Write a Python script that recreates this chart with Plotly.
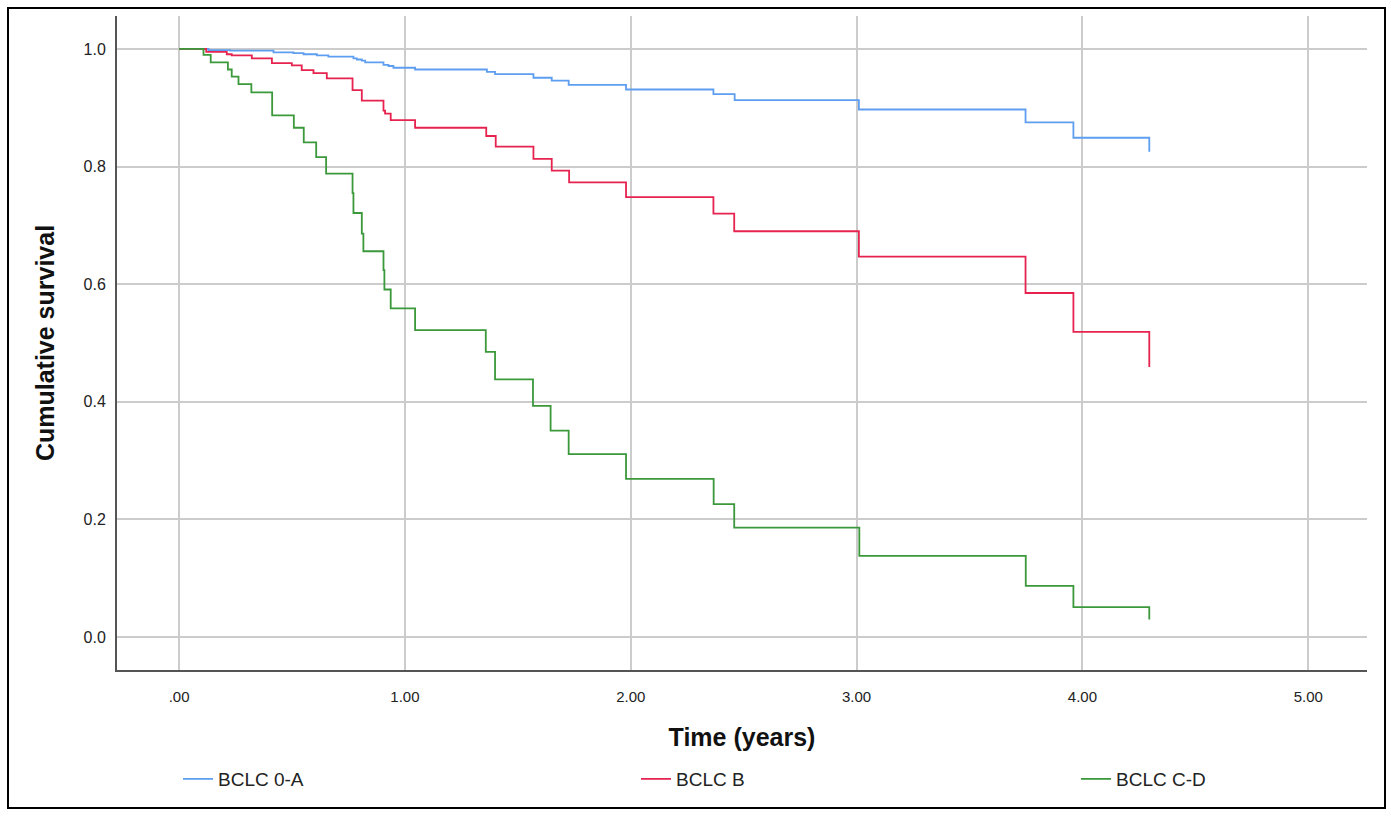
import plotly.graph_objects as go

# ---- data ----
series_names = ["BCLC 0-A", "BCLC B", "BCLC C-D"]

time_0a = [0, 0.13, 0.226, 0.418, 0.506, 0.551, 0.61, 0.661, 0.772, 0.787, 0.809, 0.824,
           0.905, 0.927, 0.949, 1.045, 1.363, 1.399, 1.569, 1.65, 1.725, 1.979, 2.366,
           2.46, 3.01, 3.748, 3.96, 4.296]
surv_0a = [1.0, 0.998, 0.997, 0.994, 0.993, 0.991, 0.989, 0.987, 0.984, 0.982, 0.980, 0.977,
           0.973, 0.971, 0.968, 0.965, 0.961, 0.957, 0.951, 0.946, 0.939, 0.931, 0.923,
           0.913, 0.897, 0.875, 0.849, 0.825]

time_b = [0, 0.12, 0.211, 0.233, 0.322, 0.411, 0.499, 0.543, 0.595, 0.654, 0.768, 0.809,
          0.905, 0.912, 0.937, 1.045, 1.36, 1.402, 1.569, 1.65, 1.727, 1.979, 2.366,
          2.458, 3.01, 3.748, 3.96, 4.296]
surv_b = [1.0, 0.995, 0.991, 0.989, 0.984, 0.976, 0.972, 0.964, 0.959, 0.950, 0.930, 0.912,
          0.895, 0.890, 0.879, 0.866, 0.852, 0.834, 0.813, 0.793, 0.773, 0.748, 0.720,
          0.690, 0.647, 0.585, 0.519, 0.459]

time_cd = [0, 0.108, 0.14, 0.216, 0.233, 0.263, 0.32, 0.412, 0.508, 0.552, 0.607, 0.651,
           0.768, 0.772, 0.809, 0.816, 0.905, 0.909, 0.937, 1.045, 1.358, 1.399, 1.567,
           1.645, 1.725, 1.979, 2.367, 2.458, 3.012, 3.749, 3.96, 4.296]
surv_cd = [1.0, 0.990, 0.977, 0.965, 0.953, 0.940, 0.926, 0.887, 0.866, 0.841, 0.816, 0.788,
           0.755, 0.721, 0.686, 0.656, 0.624, 0.591, 0.559, 0.522, 0.485, 0.438, 0.393,
           0.351, 0.311, 0.269, 0.226, 0.186, 0.138, 0.087, 0.051, 0.030]

x_tick_vals = [0, 1, 2, 3, 4, 5]
x_tick_text = [".00", "1.00", "2.00", "3.00", "4.00", "5.00"]
y_tick_vals = [0.0, 0.2, 0.4, 0.6, 0.8, 1.0]
y_tick_text = ["0.0", "0.2", "0.4", "0.6", "0.8", "1.0"]

colors = ["#5e9ef0", "#e6234f", "#3b983b"]
legend_ids = ["legend", "legend2", "legend3"]
legend_x = [0.0488, 0.4152, 0.7672]

fig = go.Figure()
for name, t, s, c, lg in zip(series_names, [time_0a, time_b, time_cd],
                             [surv_0a, surv_b, surv_cd], colors, legend_ids):
    fig.add_trace(go.Scatter(x=t, y=s, mode="lines", name=name, legend=lg,
                             showlegend=True,
                             line=dict(color=c, width=1.8, shape="hv")))

legend_font = dict(size=19, family="Liberation Sans, Arial, sans-serif", color="#222")
legend_layout = {}
for lg, lx in zip(legend_ids, legend_x):
    legend_layout[lg] = dict(orientation="h", x=lx, y=-0.1667, xanchor="left",
                             yanchor="middle", font=legend_font, visible=True,
                             bgcolor="rgba(0,0,0,0)")

grid = "#cccccc"
fig.update_layout(
    width=1391, height=816,
    showlegend=True,
    margin=dict(l=117, r=24, t=16, b=146),
    paper_bgcolor="white", plot_bgcolor="white",
    font=dict(family="Liberation Sans, Arial, sans-serif", color="#222"),
    xaxis=dict(range=[-0.275, 5.26], tickvals=x_tick_vals, ticktext=x_tick_text,
               showgrid=True, gridcolor=grid, gridwidth=2, zeroline=False,
               showline=True, linecolor="#555555", linewidth=2,
               ticks="outside", ticklen=12, tickcolor="rgba(0,0,0,0)",
               tickfont=dict(size=15),
               title=dict(text="<b>Time (years)</b>", font=dict(size=25, color="#111"),
                          standoff=24)),
    yaxis=dict(range=[-0.056, 1.056], tickvals=y_tick_vals, ticktext=y_tick_text,
               showgrid=True, gridcolor=grid, gridwidth=2, zeroline=False,
               showline=True, linecolor="#555555", linewidth=2,
               ticks="outside", ticklen=6, tickcolor="rgba(0,0,0,0)",
               tickfont=dict(size=16),
               title=dict(text="<b>Cumulative survival</b>", font=dict(size=25, color="#111"),
                          standoff=22)),
    shapes=[dict(type="rect", xref="paper", yref="paper",
                 x0=(8 - 117) / 1250, x1=(1385 - 117) / 1250,
                 y0=(670 - 808) / 654, y1=(670 - 8) / 654,
                 line=dict(color="black", width=2), fillcolor="rgba(0,0,0,0)", layer="below")],
    **legend_layout,
)

fig.write_html("out.html")
